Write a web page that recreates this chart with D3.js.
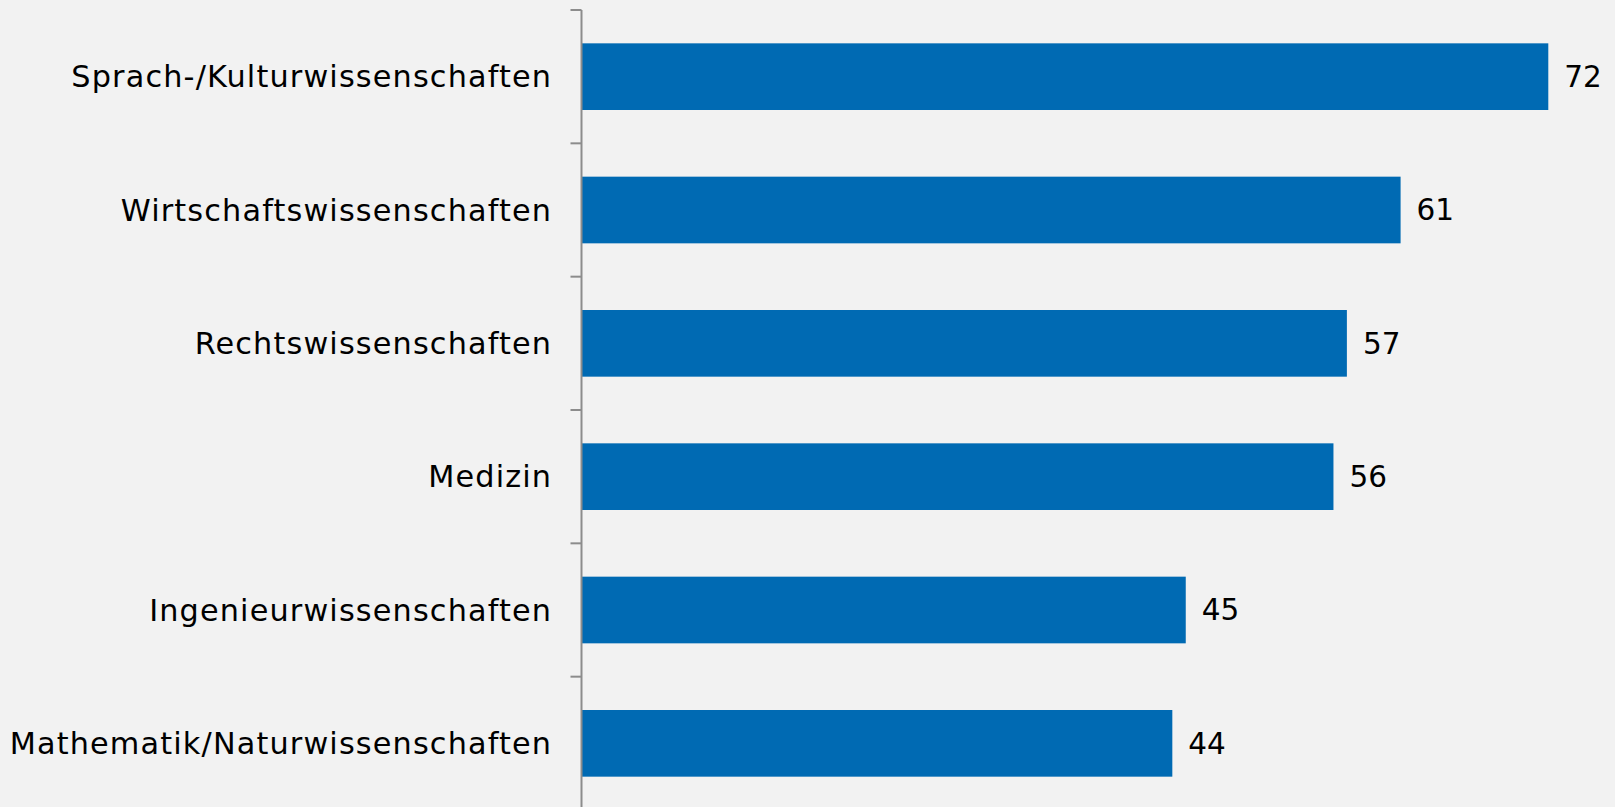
<!DOCTYPE html>
<html>
<head>
<meta charset="utf-8">
<script src="https://cdn.jsdelivr.net/npm/d3@7.9.0/dist/d3.min.js"></script>
<style>
  html, body { margin: 0; padding: 0; background: #f2f2f2; }
  svg { display: block; font-family: "DejaVu Sans", Verdana, sans-serif; }
</style>
</head>
<body>
<svg id="chart" width="1615" height="807"></svg>
<script>
// categories, top to bottom
const categories = [
    "Sprach-/Kulturwissenschaften",
    "Wirtschaftswissenschaften",
    "Rechtswissenschaften",
    "Medizin",
    "Ingenieurwissenschaften",
    "Mathematik/Naturwissenschaften"
];
const values = [72, 61, 57, 56, 45, 44];

const width = 1615, height = 807;
const axisX = 581.5;
const svg = d3.select("#chart");

svg.append("rect")
    .attr("width", width)
    .attr("height", height)
    .attr("fill", "#f2f2f2");

let x = d3.scaleLinear()
    .domain([0, 72])
    .range([axisX, 1548.3]);

let y = d3.scaleBand()
    .domain(categories)
    .range([10, 810])
    .paddingInner(0.5)
    .paddingOuter(0.25);

// bars
svg.selectAll("rect.bar")
    .data(values)
    .join("rect")
    .attr("class", "bar")
    .attr("x", x(0))
    .attr("y", (d, i) => y(categories[i]))
    .attr("width", d => x(d) - x(0))
    .attr("height", y.bandwidth())
    .attr("fill", "#006ab3");

// value labels
svg.selectAll("text.value")
    .data(values)
    .join("text")
    .attr("class", "value")
    .attr("x", d => x(d) + 16)
    .attr("y", (d, i) => y(categories[i]) + y.bandwidth() / 2)
    .attr("dy", "0.35em")
    .attr("font-size", 29.5)
    .attr("fill", "#000")
    .text(d => d);

// category labels (letter-spacing to get Verdana-like width)
svg.selectAll("text.cat")
    .data(categories)
    .join("text")
    .attr("class", "cat")
    .attr("x", 552.2)
    .attr("y", d => y(d) + y.bandwidth() / 2)
    .attr("dy", "0.35em")
    .attr("text-anchor", "end")
    .attr("font-size", 30.3)
    .attr("letter-spacing", 1.15)
    .attr("fill", "#000")
    .text(d => d);

// axis line with ticks at band boundaries (Excel style)
const boundaries = d3.range(categories.length + 1).map(i => y.range()[0] + i * y.step());
const axis = svg.append("g").attr("stroke", "#8c8c8c").attr("stroke-width", 2);
axis.append("line")
    .attr("x1", axisX).attr("x2", axisX)
    .attr("y1", boundaries[0]).attr("y2", height);
axis.selectAll("line.tick")
    .data(boundaries)
    .join("line")
    .attr("class", "tick")
    .attr("x1", axisX - 11).attr("x2", axisX)
    .attr("y1", d => d).attr("y2", d => d);
</script>
</body>
</html>
